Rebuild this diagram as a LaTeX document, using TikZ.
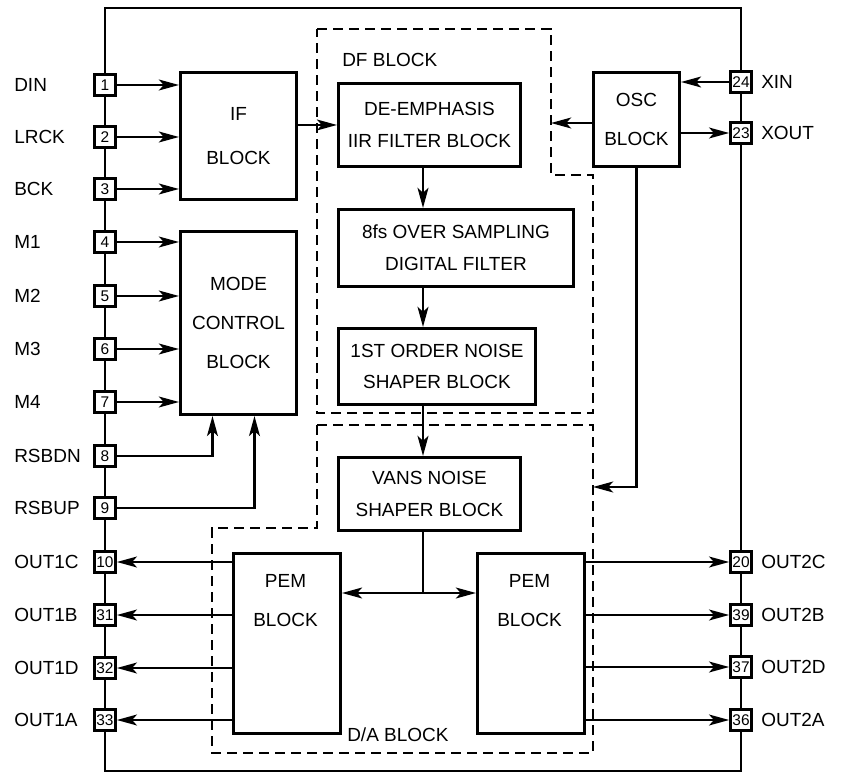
\documentclass[tikz,border=0pt]{standalone}
\usepackage{fontspec}
\setmainfont{Liberation Sans}
\usetikzlibrary{arrows.meta}
\tikzset{
  blocktext/.style={align=center, inner sep=0pt, font=\fontsize{13.5}{22.7}\selectfont},
  blockbox/.style={blocktext, draw, line width=2.1pt, rectangle, anchor=north west},
  blocksize/.style 2 args={minimum width=#1*\px, minimum height=#2*\px},
  pinbox/.style={draw, fill=white, line width=1.9pt, inner sep=0pt, minimum size=21*\px, font=\fontsize{11}{11}\selectfont},
  pintext/.style={anchor=west, inner sep=0pt, font=\fontsize{13.5}{16}\selectfont},
  sig/.style={line width=1.9pt, -{Stealth[length=0.5cm, width=0.27cm, inset=0.12cm]}},
  wire/.style={line width=1.9pt},
  subblock/.style={line width=2.1pt, dash pattern=on 0.25cm off 0.15cm},
}
\begin{document}
\begin{tikzpicture}
% one unit = one pixel of the data sheet scan
\def\px{0.025cm}
\begin{scope}[x=\px, y=-\px, line join=miter]
  \useasboundingbox (0,0) rectangle (849,774);
  % Chip outline
  \draw[line width=2.1pt] (105,8) rectangle (741,771);
  % Dashed sub-blocks
  \draw[subblock] (317,29) -- (551,29) -- (551,175) -- (593,175) -- (593,413) -- (317,413) -- cycle;
  \draw[subblock] (317,425) -- (593,425) -- (593,753) -- (212,753) -- (212,528) -- (317,528) -- cycle;
  \node[pintext] (dflab) at (342,60) {DF BLOCK};
  \node[pintext] (dalab) at (347,735) {D/A BLOCK};
  % Blocks
  \node[blockbox, blocksize={116}{127}] (ifb) at (179,71) {IF\\[9pt]BLOCK};
  \node[blockbox, blocksize={116}{183}] (mcb) at (179,230) {MODE\\[5pt]CONTROL\\[5pt]BLOCK};
  \node[blockbox, blocksize={182}{83}] (de) at (337,82) {DE-EMPHASIS\\IIR FILTER BLOCK};
  \node[blockbox, blocksize={235}{77}] (ovs) at (337,208) {8fs OVER SAMPLING\\DIGITAL FILTER};
  \node[blockbox, blocksize={197}{76}] (nsh) at (337,327) {1ST ORDER NOISE\\SHAPER BLOCK};
  \node[blockbox, blocksize={182}{73}] (vans) at (337,456) {VANS NOISE\\SHAPER BLOCK};
  \node[blockbox, blocksize={86}{94}] (osc) at (592,71) {OSC\\[5pt]BLOCK};
  \node[blockbox, blocksize={107}{180}] (pemL) at (232,552) {};
  \node[blockbox, blocksize={107}{180}] (pemR) at (476,552) {};
  \node[blocktext] (pemLt) at (285.5,601) {PEM\\[5pt]BLOCK};
  \node[blocktext] (pemRt) at (529.5,601) {PEM\\[5pt]BLOCK};
  % Pins
  \foreach \num/\lab/\yy [count=\i] in {1/DIN/85, 2/LRCK/137, 3/BCK/189, 4/M1/242, 5/M2/296, 6/M3/349, 7/M4/402, 8/RSBDN/456, 9/RSBUP/508, 10/OUT1C/562, 31/OUT1B/615, 32/OUT1D/668, 33/OUT1A/720}
  {
    \node[pinbox] (L\i) at (105,\yy) {\num};
    \node[pintext] (Lt\i) at (14,\yy) {\lab};
  }
  \foreach \num/\lab/\yy [count=\i] in {24/XIN/82, 23/XOUT/133, 20/OUT2C/562, 39/OUT2B/615, 37/OUT2D/667, 36/OUT2A/720}
  {
    \node[pinbox] (R\i) at (741,\yy) {\num};
    \node[pintext] (Rt\i) at (761,\yy) {\lab};
  }
  % Inputs
  \foreach \i in {1,2,3} \draw[sig] (L\i.east) -- (L\i.east -| ifb.west);
  \foreach \i in {4,...,7} \draw[sig] (L\i.east) -- (L\i.east -| mcb.west);
  \draw[sig] (L8.east) -| ([xshift=-26*\px]mcb.south);
  \draw[sig] (L9.east) -| ([xshift=16*\px]mcb.south);
  % Data path
  \coordinate (spine) at (423,0);
  \draw[sig] (ifb.east |- de.west) -- (de.west);
  \draw[sig] (de.south -| spine) -- (ovs.north -| spine);
  \draw[sig] (ovs.south -| spine) -- (nsh.north -| spine);
  \draw[sig] (nsh.south -| spine) -- (vans.north -| spine);
  \coordinate (split) at (423,593);
  \draw[wire] (vans.south -| split) -- (split);
  \draw[sig] (split) -- (split -| pemL.east);
  \draw[sig] (split) -- (split -| pemR.west);
  % Outputs
  \foreach \i in {10,...,13} \draw[sig] (pemL.west |- L\i) -- (L\i.east);
  \foreach \i in {3,...,6} \draw[sig] (pemR.east |- R\i) -- (R\i.west);
  % Clock
  \draw[sig] (R1.west) -- (R1.west -| osc.east);
  \draw[sig] (osc.east |- R2) -- (R2.west);
  \coordinate (dfedge) at (551,123);
  \coordinate (daedge) at (593,487);
  \draw[sig] (osc.west |- dfedge) -- (dfedge);
  \draw[sig] (osc.south) |- (daedge);
\end{scope}
\end{tikzpicture}
\end{document}
